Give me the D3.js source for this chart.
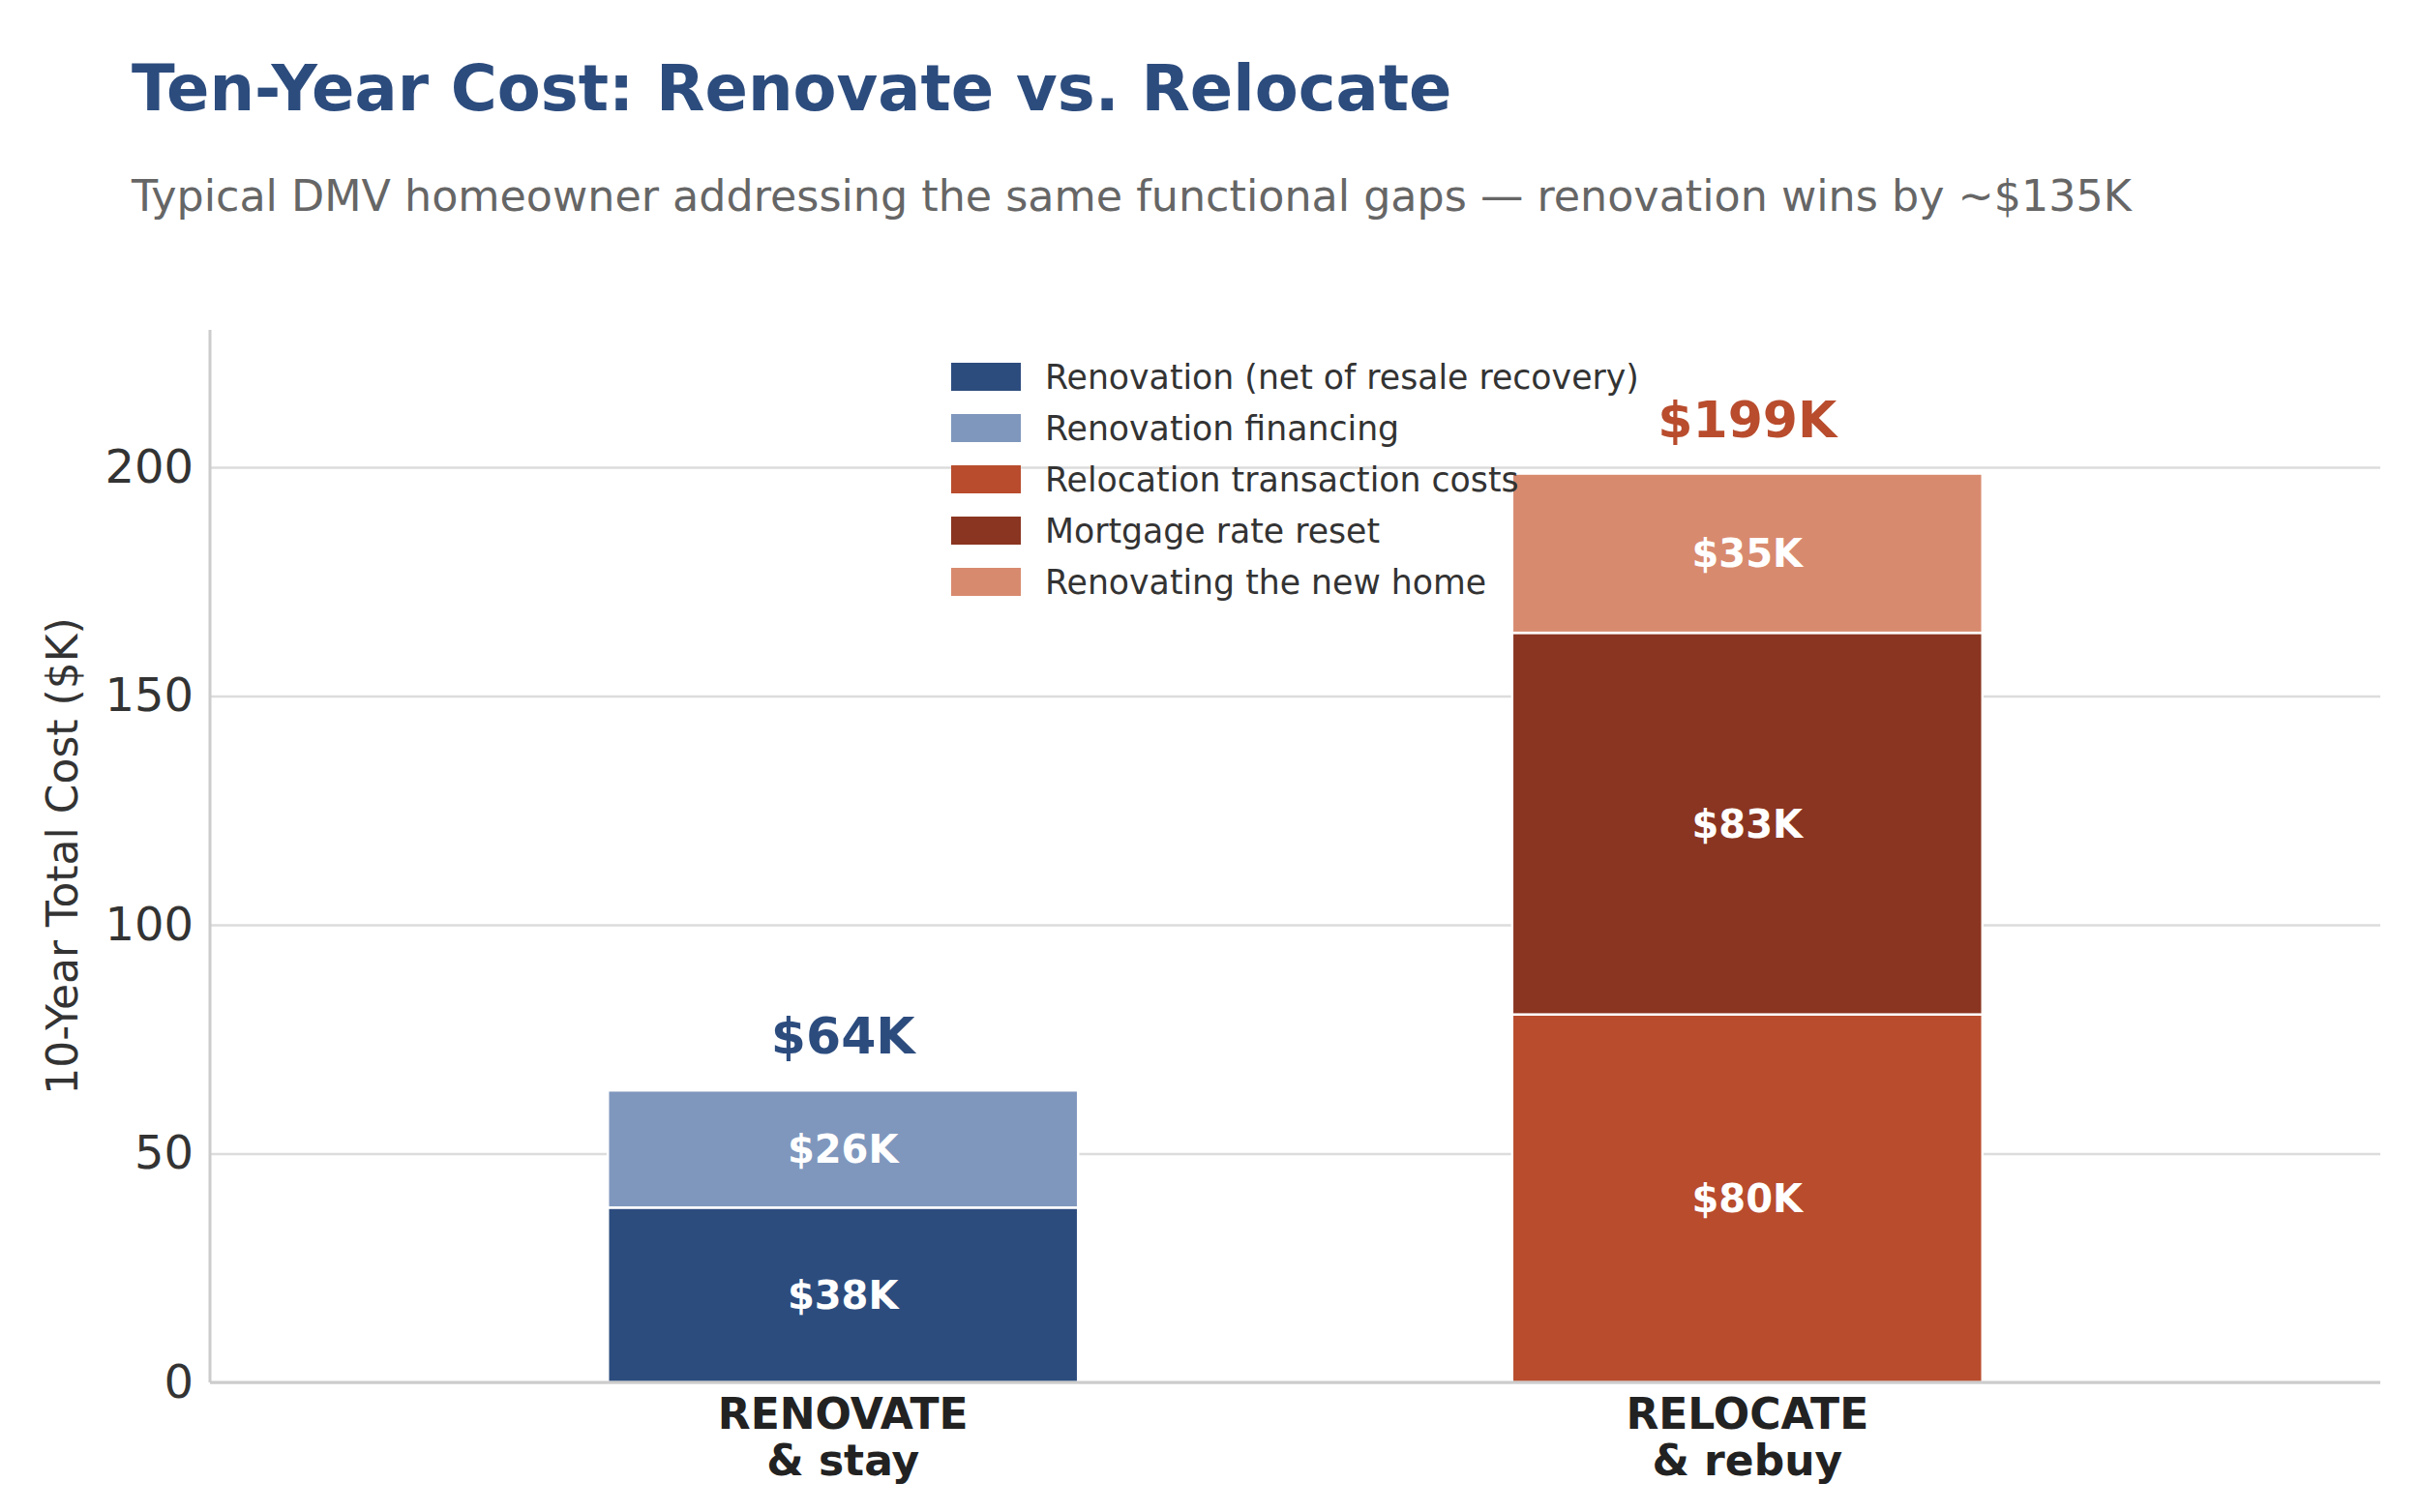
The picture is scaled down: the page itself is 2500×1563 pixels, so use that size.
<!DOCTYPE html>
<html>
<head>
<meta charset="utf-8">
<script src="https://cdn.jsdelivr.net/npm/d3@7"></script>
<style>
  body { margin: 0; background: #fff; }
  text { font-family: "DejaVu Sans", sans-serif; }
</style>
</head>
<body>
<script>
// chart values
var categories = ["RENOVATE", "RELOCATE"];
var categorySub = ["& stay", "& rebuy"];
var seriesNames = ["Renovation (net of resale recovery)", "Renovation financing",
                   "Relocation transaction costs", "Mortgage rate reset", "Renovating the new home"];
var renovation = [38.2, 0];
var financing = [25.6, 0];
var transaction = [0, 80.4];
var mortgage = [0, 83.4];
var newHome = [0, 34.8];
var yTicks = [0, 50, 100, 150, 200];

var colors = ["#2c4c7e", "#7f97bd", "#b84c2d", "#8a3521", "#d88a6f"];
var totalColors = ["#2c4c7e", "#b84c2d"];

var W = 2500, H = 1563;
var margin = {left: 217, right: 40, top: 341, bottom: 134};

var svg = d3.select("body").append("svg")
  .attr("width", W)
  .attr("height", H);

svg.append("rect").attr("width", W).attr("height", H).attr("fill", "#fff");

// title + subtitle
svg.append("text")
  .attr("x", 136).attr("y", 114)
  .attr("font-size", 65.5).attr("font-weight", "bold")
  .attr("fill", "#2c4c7e")
  .text("Ten-Year Cost: Renovate vs. Relocate");

svg.append("text")
  .attr("x", 136).attr("y", 218)
  .attr("font-size", 44.4)
  .attr("fill", "#666")
  .text("Typical DMV homeowner addressing the same functional gaps \u2014 renovation wins by ~$135K");

var x = d3.scaleLinear().domain([-0.7, 1.7]).range([margin.left, W - margin.right]);
var y = d3.scaleLinear().domain([0, 230]).range([H - margin.bottom, margin.top]);
var barW = x(0.52) - x(0);

// grid
var grid = svg.append("g")
  .attr("transform", "translate(" + margin.left + ",0)")
  .call(d3.axisLeft(y).tickValues(yTicks).tickSize(-(W - margin.right - margin.left)).tickFormat(""));
grid.select(".domain").remove();
grid.selectAll("line").attr("stroke", "#dcdcdc").attr("stroke-width", 2.5);

// y axis labels
var yAxis = svg.append("g")
  .attr("transform", "translate(" + margin.left + ",0)")
  .call(d3.axisLeft(y).tickValues(yTicks).tickSize(0).tickPadding(17));
yAxis.select(".domain").remove();
yAxis.selectAll("text")
  .attr("font-size", 48).attr("fill", "#333")
  .style("font-family", "DejaVu Sans");

svg.append("text")
  .attr("transform", "translate(80," + ((margin.top + H - margin.bottom) / 2) + ") rotate(-90)")
  .attr("text-anchor", "middle")
  .attr("font-size", 44).attr("fill", "#333")
  .text("10-Year Total Cost ($K)");

// stacked bars
var rows = categories.map(function (c, i) {
  return {cat: i, s0: renovation[i], s1: financing[i], s2: transaction[i], s3: mortgage[i], s4: newHome[i]};
});
var stack = d3.stack().keys(["s0", "s1", "s2", "s3", "s4"]);
var layers = stack(rows);

var layerG = svg.selectAll(".layer")
  .data(layers)
  .enter().append("g")
  .attr("fill", function (d, i) { return colors[i]; });

layerG.selectAll("rect")
  .data(function (d) { return d.filter(function (p) { return p[1] - p[0] > 0; }); })
  .enter().append("rect")
  .attr("x", function (d) { return x(d.data.cat) - barW / 2; })
  .attr("y", function (d) { return y(d[1]); })
  .attr("width", barW)
  .attr("height", function (d) { return y(d[0]) - y(d[1]); })
  .attr("stroke", "#fff")
  .attr("stroke-width", 2.5);

layerG.selectAll(".seg")
  .data(function (d) { return d.filter(function (p) { return p[1] - p[0] > 0; }); })
  .enter().append("text")
  .attr("x", function (d) { return x(d.data.cat); })
  .attr("y", function (d) { return y((d[0] + d[1]) / 2); })
  .attr("dy", "0.36em")
  .attr("text-anchor", "middle")
  .attr("font-size", 40).attr("font-weight", "bold")
  .attr("fill", "#fff")
  .text(function (d) { return "$" + Math.round(d[1] - d[0]) + "K"; });

// totals
var totals = rows.map(function (r) { return r.s0 + r.s1 + r.s2 + r.s3 + r.s4; });
svg.selectAll(".total")
  .data(totals)
  .enter().append("text")
  .attr("x", function (d, i) { return x(i); })
  .attr("y", function (d) { return y(d) - 38; })
  .attr("text-anchor", "middle")
  .attr("font-size", 52).attr("font-weight", "bold")
  .attr("fill", function (d, i) { return totalColors[i]; })
  .text(function (d) { return "$" + Math.round(d) + "K"; });

// spines
svg.append("line")
  .attr("x1", margin.left).attr("x2", margin.left)
  .attr("y1", margin.top).attr("y2", H - margin.bottom)
  .attr("stroke", "#ccc").attr("stroke-width", 3);
svg.append("line")
  .attr("x1", margin.left).attr("x2", W - margin.right)
  .attr("y1", H - margin.bottom).attr("y2", H - margin.bottom)
  .attr("stroke", "#ccc").attr("stroke-width", 3);

// x category labels
var xl = svg.selectAll(".xlab")
  .data(categories)
  .enter().append("text")
  .attr("text-anchor", "middle")
  .attr("font-size", 44).attr("font-weight", "bold")
  .attr("fill", "#222");
xl.append("tspan")
  .attr("x", function (d, i) { return x(i); })
  .attr("y", H - margin.bottom + 48)
  .text(function (d) { return d; });
xl.append("tspan")
  .attr("x", function (d, i) { return x(i); })
  .attr("dy", 48)
  .text(function (d, i) { return categorySub[i]; });

// legend
var legend = svg.selectAll(".leg")
  .data(seriesNames)
  .enter().append("g")
  .attr("transform", function (d, i) { return "translate(983," + (389 + i * 53) + ")"; });
legend.append("rect")
  .attr("x", 0).attr("y", -14)
  .attr("width", 72).attr("height", 29)
  .attr("fill", function (d, i) { return colors[i]; });
legend.append("text")
  .attr("x", 97).attr("y", 0)
  .attr("dy", "0.36em")
  .attr("font-size", 34.7).attr("fill", "#333")
  .text(function (d) { return d; });
</script>
</body>
</html>
